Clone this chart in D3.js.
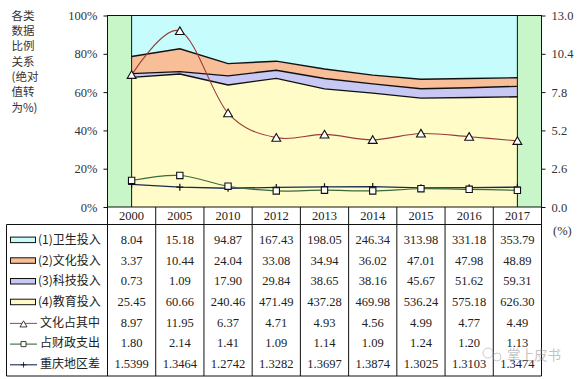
<!DOCTYPE html>
<html><head><meta charset="utf-8">
<script src="https://cdn.jsdelivr.net/npm/d3@7"></script>
<style>
html,body{margin:0;padding:0;background:#fff;}
svg{display:block;}
</style></head>
<body>
<svg id="c" width="581" height="379"></svg>
<script>
const years = ["2000","2005","2010","2012","2013","2014","2015","2016","2017"];
const health = [8.04,15.18,94.87,167.43,198.05,246.34,313.98,331.18,353.79];
const culture = [3.37,10.44,24.04,33.08,34.94,36.02,47.01,47.98,48.89];
const science = [0.73,1.09,17.90,29.84,38.65,38.16,45.67,51.62,59.31];
const education = [25.45,60.66,240.46,471.49,437.28,469.98,536.24,575.18,626.30];
const cultureShare = [8.97,11.95,6.37,4.71,4.93,4.56,4.99,4.77,4.49];
const fiscalShare = [1.80,2.14,1.41,1.09,1.14,1.09,1.24,1.20,1.13];
const regionGap = [1.5399,1.3464,1.2742,1.3282,1.3697,1.3874,1.3025,1.3103,1.3474];
const leftTicks = [0,20,40,60,80,100];
const rightTicks = [0,2.6,5.2,7.8,10.4,13];
const titleLines = ["各类","数据","比例","关系","(绝对","值转","为%)"];
const rowLabels = ["(1)卫生投入","(2)文化投入","(3)科技投入","(4)教育投入","文化占其中","占财政支出","重庆地区差"];

const svg = d3.select("#c");
const L = 107.5, R = 541.5, T = 15.5, B = 207;
const serif = "'Liberation Serif','Times New Roman',serif";
const cjk = "'Noto Sans CJK SC','Noto Sans',sans-serif";

const x = d3.scaleBand().domain(years).range([L, R]).padding(0);
const cx = d => x(d) + x.bandwidth() / 2;
const yL = d3.scaleLinear().domain([0, 100]).range([B, T]);
const yR = d3.scaleLinear().domain([0, 13]).range([B, T]);

const rows = years.map((yr, i) => {
  const tot = health[i] + culture[i] + science[i] + education[i];
  return {year: yr, edu: education[i] / tot * 100, sci: science[i] / tot * 100,
          cult: culture[i] / tot * 100, hea: health[i] / tot * 100};
});
const keys = ["edu", "sci", "cult", "hea"];
const fills = {edu: "#FFFCC8", sci: "#C8C8F4", cult: "#F8BE98", hea: "#C6FCFC"};
const stack = d3.stack().keys(keys)(rows);

svg.append("rect").attr("x", L).attr("y", T).attr("width", R - L).attr("height", B - T).attr("fill", "#C8F6C8");

const area = d3.area().x(d => cx(d.data.year)).y0(d => yL(d[0])).y1(d => yL(d[1]));
svg.append("g").selectAll("path").data(stack).join("path")
  .attr("d", area).attr("fill", d => fills[d.key]);
const topLine = d3.line().x(d => cx(d.data.year)).y(d => yL(d[1]));
svg.append("g").selectAll("path").data(stack.filter(s => s.key !== "hea")).join("path")
  .attr("d", topLine).attr("fill", "none").attr("stroke", "#111").attr("stroke-width", 1.4);
[years[0], years[years.length - 1]].forEach(yr => {
  svg.append("line").attr("x1", cx(yr)).attr("x2", cx(yr)).attr("y1", T).attr("y2", B)
    .attr("stroke", "#111").attr("stroke-width", 1);
});

const smooth = d3.line().x((d, i) => cx(years[i])).y(d => yR(d)).curve(d3.curveCardinal.tension(0));
const straight = d3.line().x((d, i) => cx(years[i])).y(d => yR(d));
svg.append("path").attr("d", straight(regionGap)).attr("fill", "none").attr("stroke", "#1A2A5A").attr("stroke-width", 1.3);
svg.append("path").attr("d", smooth(fiscalShare)).attr("fill", "none").attr("stroke", "#3A6A3A").attr("stroke-width", 1.2);
svg.append("path").attr("d", smooth(cultureShare)).attr("fill", "none").attr("stroke", "#9A3A3A").attr("stroke-width", 1.1);

const tri = d3.symbol().type(d3.symbolTriangle).size(34)();
const sq = d3.symbol().type(d3.symbolSquare).size(40)();
const plus = "M-3.5,0H3.5M0,-3.5V3.5";
svg.append("g").selectAll("path").data(regionGap).join("path")
  .attr("transform", (d, i) => `translate(${cx(years[i])},${yR(d)})`)
  .attr("d", plus).attr("stroke", "#111").attr("stroke-width", 1.2).attr("fill", "none");
svg.append("g").selectAll("path").data(fiscalShare).join("path")
  .attr("transform", (d, i) => `translate(${cx(years[i])},${yR(d)})`)
  .attr("d", sq).attr("fill", "#fff").attr("stroke", "#111").attr("stroke-width", 1.1);
svg.append("g").selectAll("path").data(cultureShare).join("path")
  .attr("transform", (d, i) => `translate(${cx(years[i])},${yR(d) + 1})`)
  .attr("d", tri).attr("fill", "#fff").attr("stroke", "#111").attr("stroke-width", 1.1);

svg.append("rect").attr("x", L).attr("y", T).attr("width", R - L).attr("height", B - T)
  .attr("fill", "none").attr("stroke", "#111").attr("stroke-width", 1);

const ax1 = svg.append("g").attr("transform", `translate(${L},0)`)
  .call(d3.axisLeft(yL).tickValues(leftTicks).tickSize(4).tickPadding(6).tickFormat(d => d + "%"));
const ax2 = svg.append("g").attr("transform", `translate(${R},0)`)
  .call(d3.axisRight(yR).tickValues(rightTicks).tickSize(4).tickPadding(6).tickFormat(d3.format(".1f")));
[ax1, ax2].forEach(a => {
  a.select(".domain").remove();
  a.selectAll("line").attr("stroke", "#111");
  a.selectAll("text").attr("font-family", serif).attr("font-size", 12.5).attr("fill", "#333");
});
svg.append("text").attr("x", 553).attr("y", 235).attr("font-family", serif).attr("font-size", 12.5)
  .attr("fill", "#333").text("(%)");

svg.append("g").selectAll("text").data(titleLines).join("text")
  .attr("x", 11.5).attr("y", (d, i) => 15.5 + i * 15.35).attr("dy", "0.36em")
  .attr("font-family", cjk).attr("font-size", 11.5).attr("fill", "#333").text(d => d);

const tb = svg.append("g");
const tTop = 224.5, tBot = 376, tLeft = 6.5;
const rowY = i => 239.6 + i * 20.7;
years.forEach(yr => {
  tb.append("line").attr("x1", x(yr) + x.bandwidth()).attr("x2", x(yr) + x.bandwidth())
    .attr("y1", B).attr("y2", tBot).attr("stroke", "#111");
});
tb.append("line").attr("x1", L).attr("x2", L).attr("y1", B).attr("y2", tBot).attr("stroke", "#111");
tb.append("line").attr("x1", tLeft).attr("x2", tLeft).attr("y1", tTop).attr("y2", tBot).attr("stroke", "#111");
tb.append("line").attr("x1", tLeft).attr("x2", R).attr("y1", tTop).attr("y2", tTop).attr("stroke", "#111");
tb.append("line").attr("x1", tLeft).attr("x2", R).attr("y1", tBot).attr("y2", tBot).attr("stroke", "#111");
tb.selectAll("text.yr").data(years).join("text").attr("class", "yr")
  .attr("x", d => cx(d)).attr("y", 216).attr("dy", "0.35em").attr("text-anchor", "middle")
  .attr("font-family", serif).attr("font-size", 12.5).attr("fill", "#222").text(d => d);
const tableSeries = [
  health.map(v => v.toFixed(2)), culture.map(v => v.toFixed(2)), science.map(v => v.toFixed(2)),
  education.map(v => v.toFixed(2)), cultureShare.map(v => v.toFixed(2)), fiscalShare.map(v => v.toFixed(2)),
  regionGap.map(v => v.toFixed(4))
];
tableSeries.forEach((arr, r) => {
  tb.append("g").selectAll("text").data(arr).join("text")
    .attr("x", (d, i) => cx(years[i])).attr("y", rowY(r)).attr("dy", "0.35em").attr("text-anchor", "middle")
    .attr("font-family", serif).attr("font-size", 12.5).attr("fill", "#222").text(d => d);
});
tb.append("g").selectAll("text").data(rowLabels).join("text")
  .attr("x", (d, i) => i < 4 ? 38 : 40).attr("y", (d, i) => rowY(i)).attr("dy", "0.36em")
  .attr("font-family", cjk).attr("font-size", 12).attr("fill", "#222").text(d => d);
const swKeys = ["hea", "cult", "sci", "edu"];
swKeys.forEach((k, i) => {
  tb.append("rect").attr("x", 10.5).attr("y", rowY(i) - 2.5).attr("width", 25).attr("height", 5.5)
    .attr("fill", fills[k]).attr("stroke", "#111").attr("stroke-width", 1);
});
const legLines = [{c: "#C04848", m: tri, dy: 1.5}, {c: "#3A6A3A", m: sq, dy: 0}, {c: "#1A2A5A", m: plus, dy: 0}];
legLines.forEach((s, j) => {
  const yy = rowY(4 + j);
  tb.append("line").attr("x1", 10).attr("x2", 37).attr("y1", yy + 1).attr("y2", yy + 1).attr("stroke", s.c).attr("stroke-width", 1.1);
  tb.append("path").attr("d", s.m)
    .attr("fill", "#fff").attr("stroke", "#111").attr("stroke-width", 1)
    .attr("transform", `translate(23.5,${yy + 1 + s.dy}) scale(0.8)`);
});

const wm = svg.append("g").attr("opacity", 0.5);
wm.append("circle").attr("cx", 488).attr("cy", 353).attr("r", 5).attr("fill", "none").attr("stroke", "#999");
wm.append("circle").attr("cx", 497).attr("cy", 357).attr("r", 4).attr("fill", "none").attr("stroke", "#999");
wm.append("text").attr("x", 507).attr("y", 355).attr("dy", "0.35em").attr("font-family", cjk)
  .attr("font-size", 13.5).attr("fill", "#888").text("掌上皮书");
</script>
</body></html>
